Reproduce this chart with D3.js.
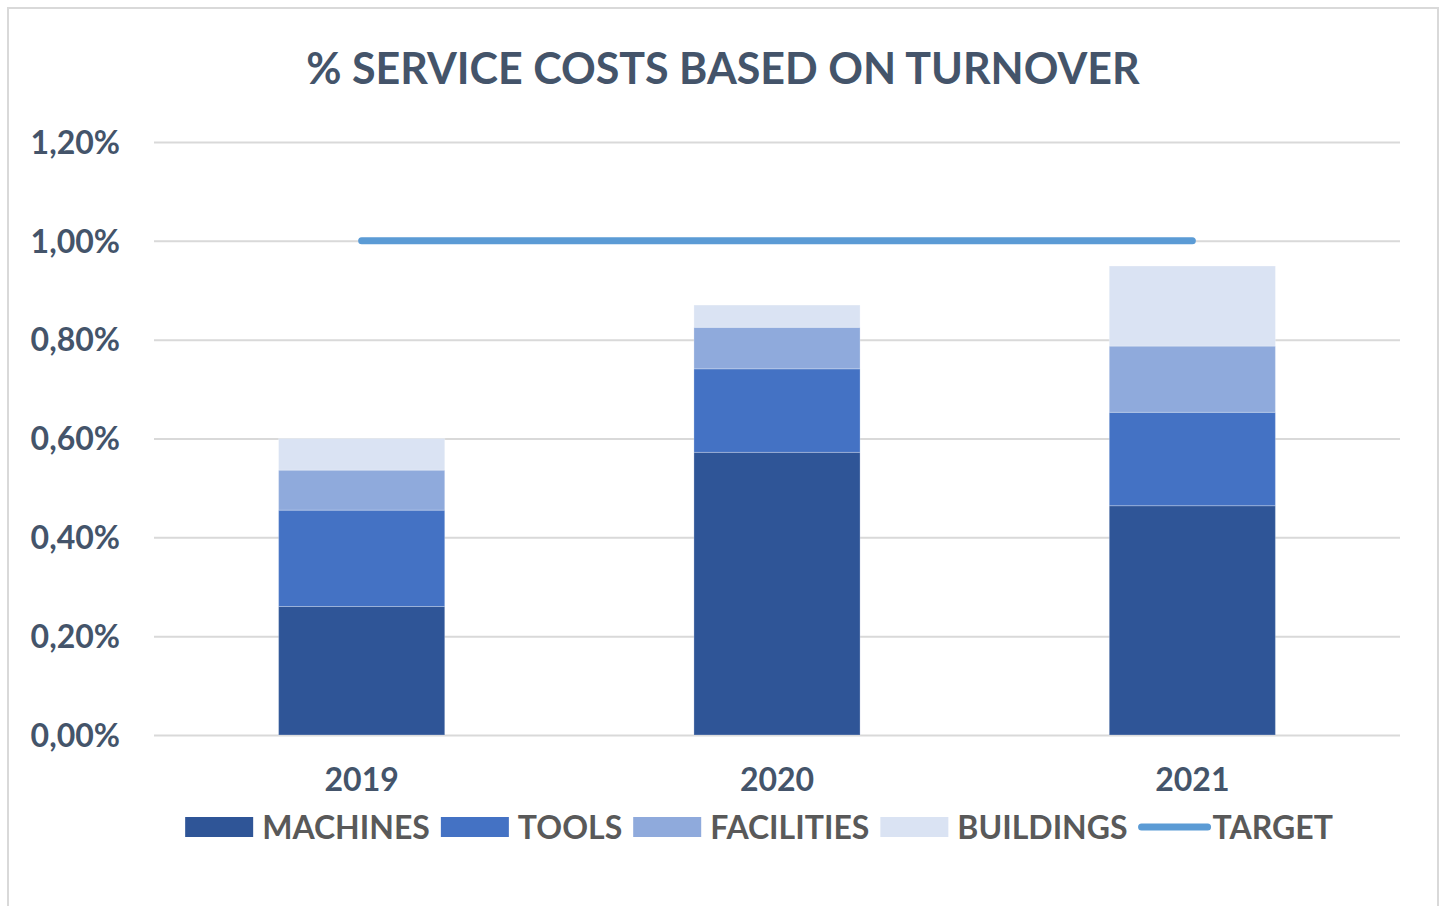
<!DOCTYPE html>
<html>
<head>
<meta charset="utf-8">
<script src="https://cdn.jsdelivr.net/npm/d3@7"></script>
<style>
	body { margin: 0; background: #fff; }
	text { font-family: Lato, "Open Sans", sans-serif; font-weight: 700; }
</style>
</head>
<body>
<div id="chart"></div>
<script>
// Data (values in % of turnover)
const years = ["2019", "2020", "2021"];
const machines = [0.26, 0.572, 0.464];
const tools = [0.195, 0.169, 0.189];
const facilities = [0.081, 0.084, 0.134];
const buildings = [0.064, 0.045, 0.162];
const target = [1.0, 1.0, 1.0];
const yTicks = [0, 0.2, 0.4, 0.6, 0.8, 1.0, 1.2];
const seriesNames = ["MACHINES", "TOOLS", "FACILITIES", "BUILDINGS"];

const width = 1444, height = 906;
const margin = { top: 142, right: 44, bottom: 171, left: 154 };
const colors = ["#2F5597", "#4472C4", "#8FAADC", "#DAE3F3"];
const targetColor = "#5B9BD5";

let rows = years.map((y, i) => ({
	year: y,
	MACHINES: machines[i],
	TOOLS: tools[i],
	FACILITIES: facilities[i],
	BUILDINGS: buildings[i]
}));

let svg = d3.select("#chart")
	.append("svg")
	.attr("width", width)
	.attr("height", height)
	.attr("viewBox", [0, 0, width, height]);

// chart border
svg.append("rect")
	.attr("x", 8)
	.attr("y", 8)
	.attr("width", 1430)
	.attr("height", 920)
	.attr("fill", "none")
	.attr("stroke", "#d9d9d9")
	.attr("stroke-width", 2);

svg.append("text")
	.attr("x", 723)
	.attr("y", 84)
	.attr("text-anchor", "middle")
	.attr("fill", "#44546A")
	.attr("font-size", 43)
	.text("% SERVICE COSTS BASED ON TURNOVER");

let x = d3.scaleBand()
	.domain(years)
	.range([margin.left, width - margin.right])
	.paddingInner(0.6)
	.paddingOuter(0.3);

let y = d3.scaleLinear()
	.domain([0, 1.2])
	.range([height - margin.bottom, margin.top]);

let comma = d3.formatLocale({ decimal: ",", thousands: ".", grouping: [3], currency: ["", "€"] });
let fmt = v => comma.format(".2f")(v) + "%";

// y axis with grid
let yAxis = g => g
	.attr("transform", `translate(${margin.left},0)`)
	.call(d3.axisLeft(y).tickValues(yTicks).tickFormat(fmt).tickSize(-(width - margin.left - margin.right)).tickPadding(34))
	.call(g => g.select(".domain").remove())
	.call(g => g.selectAll(".tick line")
		.attr("stroke", "#d9d9d9")
		.attr("stroke-width", 2))
	.call(g => g.selectAll(".tick text")
		.attr("fill", "#44546A")
		.attr("font-size", 32)
		.attr("font-family", "Lato, sans-serif")
		.attr("dy", "0.35em"));

let xAxis = g => g
	.attr("transform", `translate(0,${height - margin.bottom})`)
	.call(d3.axisBottom(x).tickSize(0).tickPadding(45))
	.call(g => g.select(".domain").remove())
	.call(g => g.selectAll(".tick text")
		.attr("fill", "#44546A")
		.attr("font-size", 32)
		.attr("font-family", "Lato, sans-serif")
		.attr("dy", "0.35em"));

svg.append("g").call(yAxis);
svg.append("g").call(xAxis);

// stacked bars
let stack = d3.stack().keys(seriesNames)(rows);

svg.append("g")
	.selectAll("g")
	.data(stack)
	.join("g")
	.attr("fill", (d, i) => colors[i])
	.selectAll("rect")
	.data(d => d)
	.join("rect")
	.attr("x", d => x(d.data.year))
	.attr("y", d => y(d[1]))
	.attr("width", x.bandwidth())
	.attr("height", d => y(d[0]) - y(d[1]))
	.attr("stroke", "#ffffff")
	.attr("stroke-opacity", 0.25)
	.attr("stroke-width", 1);

// target line
let line = d3.line()
	.x((d, i) => x(years[i]) + x.bandwidth() / 2)
	.y(d => y(d));

svg.append("path")
	.datum(target)
	.attr("d", line)
	.attr("fill", "none")
	.attr("stroke", targetColor)
	.attr("stroke-width", 7)
	.attr("stroke-linecap", "round");

// legend
let legendItems = seriesNames.map((n, i) => ({ name: n, color: colors[i], type: "bar" }))
	.concat([{ name: "TARGET", color: targetColor, type: "line" }]);

let legend = svg.append("g");
let lx = 0;
legendItems.forEach((d, i) => {
	let item = legend.append("g").attr("transform", `translate(${lx},0)`);
	if (d.type === "bar") {
		item.append("rect")
			.attr("x", 0)
			.attr("y", -10)
			.attr("width", 68)
			.attr("height", 20)
			.attr("fill", d.color);
	} else {
		item.append("line")
			.attr("x1", 3)
			.attr("x2", 69)
			.attr("y1", 0)
			.attr("y2", 0)
			.attr("stroke", d.color)
			.attr("stroke-width", 7)
			.attr("stroke-linecap", "round");
	}
	let t = item.append("text")
		.attr("x", d.type === "bar" ? 77 : 74)
		.attr("y", 0)
		.attr("dy", "0.36em")
		.attr("fill", "#595959")
		.attr("font-size", 32)
		.text(d.name);
	lx += (d.type === "bar" ? 77 : 74) + t.node().getComputedTextLength() + 11;
});
let legendW = lx - 11;
legend.attr("transform", `translate(${759 - legendW / 2},827)`);
</script>
</body>
</html>
